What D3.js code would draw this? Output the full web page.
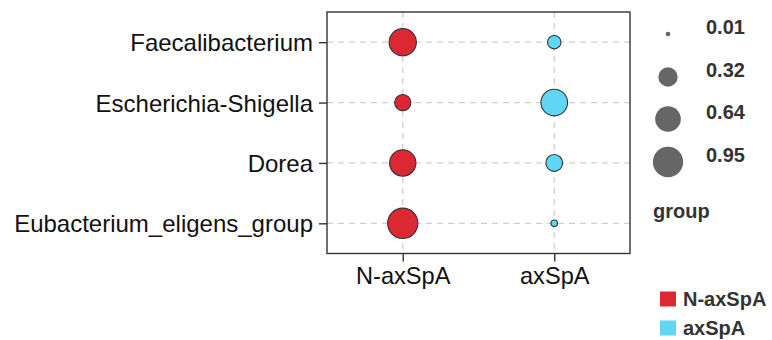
<!DOCTYPE html>
<html>
<head>
<meta charset="utf-8">
<script src="https://cdn.jsdelivr.net/npm/d3@7"></script>
<style>
  html, body { margin: 0; padding: 0; background: #fff; }
  svg { display: block; font-family: Arial, "Liberation Sans", Helvetica, sans-serif; }
</style>
</head>
<body>
<svg id="chart" width="772" height="340"></svg>
<script>
// Genera (top to bottom) and study groups
const taxa = ["Faecalibacterium", "Escherichia-Shigella", "Dorea", "Eubacterium_eligens_group"];
const groups = ["N-axSpA", "axSpA"];
const groupColors = ["#DC2832", "#60D6F5"];

// Point size value per genus, one array per group
const valuesNaxSpA = [0.74, 0.20, 0.68, 0.95];
const valuesAxSpA  = [0.12, 0.70, 0.22, 0.015];

// Size legend breaks
const sizeBreaks = [0.01, 0.32, 0.64, 0.95];

const svg = d3.select("#chart");
const panel = { left: 327, top: 12, right: 630, bottom: 253.5 };

const x = d3.scalePoint().domain(groups).range([panel.left, panel.right]).padding(0.5);
const y = d3.scalePoint().domain(taxa).range([panel.top, panel.bottom]).padding(0.5);
const color = d3.scaleOrdinal().domain(groups).range(groupColors);

// Area-style size scale: radius grows with sqrt of the rescaled value
const sizeT = d3.scaleLinear().domain([0.01, 0.95]).range([0, 1]).clamp(true);
const radius = v => 2.35 + 12.8 * Math.sqrt(sizeT(v));

const points = [];
taxa.forEach((t, i) => {
  points.push({ taxon: t, group: groups[0], value: valuesNaxSpA[i] });
  points.push({ taxon: t, group: groups[1], value: valuesAxSpA[i] });
});

// Dashed grid
const grid = svg.append("g");
grid.selectAll("line.h").data(taxa).join("line")
  .attr("x1", panel.left).attr("x2", panel.right)
  .attr("y1", d => y(d)).attr("y2", d => y(d))
  .attr("stroke", "#cfcfcf").attr("stroke-width", 1.3).attr("stroke-dasharray", "6,5");
grid.selectAll("line.v").data(groups).join("line")
  .attr("y1", panel.top).attr("y2", panel.bottom)
  .attr("x1", d => x(d)).attr("x2", d => x(d))
  .attr("stroke", "#cfcfcf").attr("stroke-width", 1.3).attr("stroke-dasharray", "6,5");

// Points
svg.append("g").selectAll("circle").data(points).join("circle")
  .attr("cx", d => x(d.group))
  .attr("cy", d => y(d.taxon))
  .attr("r", d => radius(d.value))
  .attr("fill", d => color(d.group))
  .attr("stroke", "#333333")
  .attr("stroke-width", 1.1);

// Panel border
svg.append("rect")
  .attr("x", panel.left).attr("y", panel.top)
  .attr("width", panel.right - panel.left).attr("height", panel.bottom - panel.top)
  .attr("fill", "none").attr("stroke", "#333333").attr("stroke-width", 1.4);

// Axes
const yAxis = svg.append("g").attr("transform", `translate(${panel.left},0)`)
  .call(d3.axisLeft(y).tickSize(8).tickPadding(6));
const xAxis = svg.append("g").attr("transform", `translate(0,${panel.bottom})`)
  .call(d3.axisBottom(x).tickSize(8).tickPadding(4));
[yAxis, xAxis].forEach(a => {
  a.select(".domain").remove();
  a.selectAll(".tick line").attr("stroke", "#333333").attr("stroke-width", 1.4);
  a.selectAll(".tick text").attr("fill", "#111")
    .attr("font-family", "Arial, 'Liberation Sans', sans-serif");
});
yAxis.selectAll(".tick text").attr("font-size", 24).attr("dy", "0.36em");
xAxis.selectAll(".tick text").attr("font-size", 23.6).attr("dy", "0.8em");

// Size legend
const sizeLegend = svg.append("g");
const sizeY = [34, 77, 119, 162];
sizeBreaks.forEach((b, i) => {
  sizeLegend.append("circle")
    .attr("cx", 668).attr("cy", sizeY[i]).attr("r", radius(b))
    .attr("fill", "#666666");
  sizeLegend.append("text")
    .attr("x", 706).attr("y", sizeY[i])
    .attr("font-size", 20).attr("font-weight", "bold").attr("fill", "#333333")
    .text(b.toFixed(2));
});

// Colour legend
const colLegend = svg.append("g");
colLegend.append("text")
  .attr("x", 653).attr("y", 218)
  .attr("font-size", 20).attr("font-weight", "bold").attr("fill", "#333333")
  .text("group");
const colY = [291.5, 320.5];
groups.forEach((g, i) => {
  colLegend.append("rect")
    .attr("x", 660).attr("y", colY[i]).attr("width", 16).attr("height", 15)
    .attr("fill", color(g));
  colLegend.append("text")
    .attr("x", 683).attr("y", colY[i] + 14.5)
    .attr("font-size", 20).attr("font-weight", "bold").attr("fill", "#333333")
    .text(g);
});
</script>
</body>
</html>
